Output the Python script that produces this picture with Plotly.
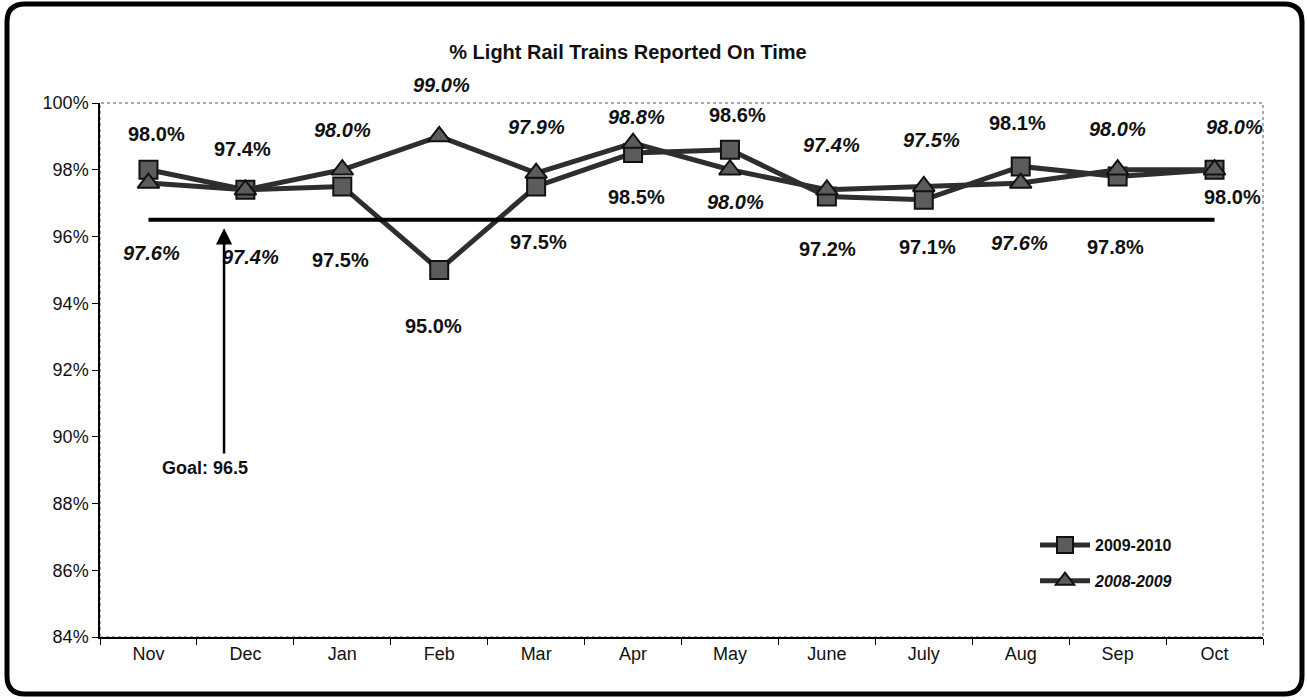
import plotly.graph_objects as go

# ---------------- data ----------------
months = ["Nov", "Dec", "Jan", "Feb", "Mar", "Apr", "May", "June", "July", "Aug", "Sep", "Oct"]
fy_2009_2010 = [98.0, 97.4, 97.5, 95.0, 97.5, 98.5, 98.6, 97.2, 97.1, 98.1, 97.8, 98.0]
fy_2008_2009 = [97.6, 97.4, 98.0, 99.0, 97.9, 98.8, 98.0, 97.4, 97.5, 97.6, 98.0, 98.0]
goal_value = 96.5
goal_line = [goal_value] * len(months)
y_tick_vals = [84, 86, 88, 90, 92, 94, 96, 98, 100]
y_tick_text = ["84%", "86%", "88%", "90%", "92%", "94%", "96%", "98%", "100%"]
series_names = ["2009-2010", "2008-2009"]
title_text = "% Light Rail Trains Reported On Time"
goal_text = "Goal: 96.5"

# ---------------- styling / placement (pixels) ----------------
W, H = 1307, 700
ML, MR, MT, MB = 100, 44, 103, 63
PW, PH = W - ML - MR, H - MT - MB
FONT = "Liberation Sans, Arial, sans-serif"

# data-label pixel offsets (xshift, yshift) per point
off_0910 = [(8, 36), (-3, 41), (-2, -74), (-6, -56), (2, -56), (3, -44),
            (8, 35), (1, -53), (4, -47), (-3, 43), (-2, -71), (18, -27)]
off_0809 = [(3, -70), (5, -67), (0, 40), (2, 51), (0, 46), (3, 26),
            (6, -32), (5, 45), (8, 46), (-1, -60), (0, 41), (20, 43)]


def px2paper(px, py):
    return (px - ML) / PW, (H - MB - py) / PH


fig = go.Figure()

fig.add_trace(go.Scatter(
    x=months, y=fy_2009_2010, mode="lines+markers",
    name="<b>" + series_names[0] + "</b>", legendgroup="a",
    line=dict(color="#2e2e2e", width=5),
    marker=dict(symbol="square", size=18, color="#5c5c5c",
                line=dict(color="#111111", width=2)),
))
fig.add_trace(go.Scatter(
    x=months, y=fy_2008_2009, mode="lines+markers",
    name="<b><i>" + series_names[1] + "</i></b>", legendgroup="b",
    line=dict(color="#2e2e2e", width=5),
    marker=dict(symbol="triangle-up", size=19, color="#5c5c5c",
                line=dict(color="#111111", width=2)),
))
fig.add_trace(go.Scatter(
    x=months, y=goal_line, mode="lines", showlegend=False,
    line=dict(color="#000000", width=4), hoverinfo="skip",
))

annotations = []
for m, v, (dx, dy) in zip(months, fy_2009_2010, off_0910):
    annotations.append(dict(x=m, y=v, xref="x", yref="y", text="<b>%.1f%%</b>" % v,
                            showarrow=False, xshift=dx, yshift=dy,
                            font=dict(family=FONT, size=20, color="#111111")))
for m, v, (dx, dy) in zip(months, fy_2008_2009, off_0809):
    annotations.append(dict(x=m, y=v, xref="x", yref="y", text="<b><i>%.1f%%</i></b>" % v,
                            showarrow=False, xshift=dx, yshift=dy,
                            font=dict(family=FONT, size=20, color="#111111")))

# goal arrow and text
arrow_x = 0.78
annotations.append(dict(x=arrow_x, y=96.25, xref="x", yref="y",
                        ax=arrow_x, ay=89.45, axref="x", ayref="y",
                        text="", showarrow=True, arrowhead=2, arrowsize=1.3,
                        arrowwidth=2.5, arrowcolor="#000000"))
annotations.append(dict(x=0.58, y=89.05, xref="x", yref="y", text="<b>" + goal_text + "</b>",
                        showarrow=False, font=dict(family=FONT, size=18, color="#111111")))

# outer rounded frame
x0, y0 = px2paper(7, 694)
x1, y1 = px2paper(1302, 4)
rx, ry = 18 / PW, 18 / PH
frame_path = (
    f"M{x0 + rx},{y1} L{x1 - rx},{y1} Q{x1},{y1} {x1},{y1 - ry} "
    f"L{x1},{y0 + ry} Q{x1},{y0} {x1 - rx},{y0} "
    f"L{x0 + rx},{y0} Q{x0},{y0} {x0},{y0 + ry} "
    f"L{x0},{y1 - ry} Q{x0},{y1} {x0 + rx},{y1} Z"
)
shapes = [
    dict(type="path", xref="paper", yref="paper", path=frame_path,
         line=dict(color="#000000", width=5), layer="above"),
    dict(type="rect", xref="paper", yref="paper", x0=0, x1=1, y0=0, y1=1,
         line=dict(color="#555555", width=1, dash="dot"), layer="below"),
]

fig.update_layout(
    width=W, height=H,
    margin=dict(l=ML, r=MR, t=MT, b=MB),
    paper_bgcolor="white", plot_bgcolor="white",
    font=dict(family=FONT, color="#111111"),
    title=dict(text="<b>" + title_text + "</b>", x=628 / W, xanchor="center",
               y=1 - 52 / H, yanchor="middle",
               font=dict(family=FONT, size=20, color="#111111")),
    xaxis=dict(type="category", range=[-0.5, 11.5], showgrid=False, zeroline=False,
               showline=True, linecolor="#000000", linewidth=1.5,
               ticks="outside", tickson="boundaries", ticklen=6, tickcolor="#000000",
               tickfont=dict(family=FONT, size=18, color="#111111")),
    yaxis=dict(range=[84, 100], tickmode="array", tickvals=y_tick_vals, ticktext=y_tick_text,
               showgrid=False, zeroline=False, showline=True, linecolor="#000000",
               linewidth=1.5, ticks="outside", ticklen=6, tickcolor="#000000",
               tickfont=dict(family=FONT, size=18, color="#111111")),
    legend=dict(x=(1035 - ML) / PW, y=(H - MB - 528) / PH, xanchor="left", yanchor="top",
                bgcolor="rgba(0,0,0,0)", font=dict(family=FONT, size=16, color="#111111"),
                tracegroupgap=12, itemwidth=50),
    annotations=annotations,
    shapes=shapes,
    showlegend=True,
)

fig.write_html("out.html", config={"displayModeBar": False},
               post_script="document.body.style.margin='0';")
